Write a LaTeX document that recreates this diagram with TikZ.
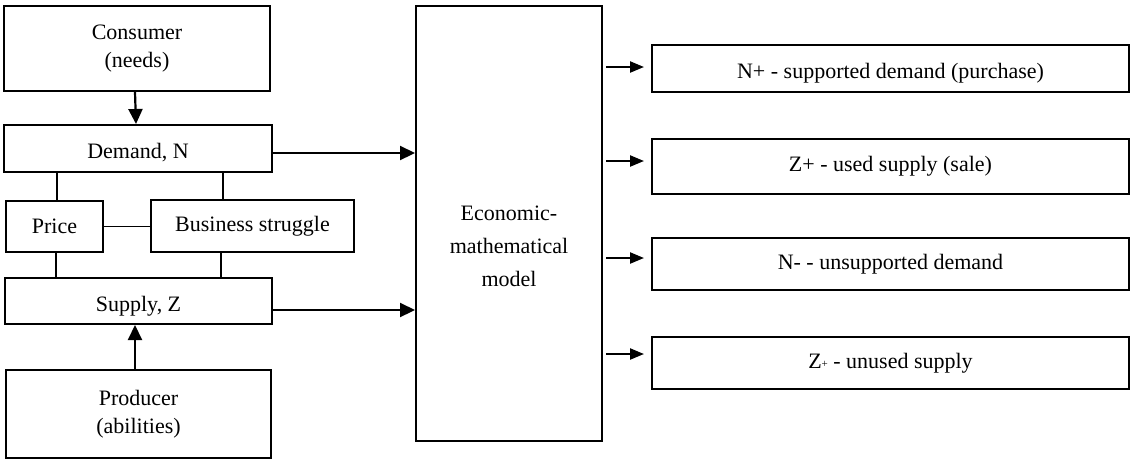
\documentclass[tikz,border=0pt]{standalone}
\usepackage{fontspec}
\setmainfont{Liberation Serif}
\usetikzlibrary{arrows.meta}
\begin{document}
\begin{tikzpicture}[x=1pt,y=-1pt,
  box/.style={draw, line width=2pt, inner sep=0pt, align=center,
    font=\fontsize{22}{28}\selectfont},
  low/.style={text height=20pt, text depth=0pt},
  label text/.style={inner sep=0pt, align=center, font=\fontsize{22}{33}\selectfont},
  link/.style={line width=1.5pt},
  arr/.style={line width=2.2pt, -{Triangle[length=15pt,width=14pt]}},
  outarr/.style={line width=2.2pt, -{Triangle[length=14pt,width=11pt]}}]
\useasboundingbox (0,0) rectangle (1132,459);

% left column
\node[box, minimum width=266pt, minimum height=85pt] (consumer) at (137,48.5) {Consumer\\(needs)};
\node[box, low, minimum width=268pt, minimum height=47pt] (demand) at (138,148.5) {Demand, N};
\node[box, minimum width=97pt, minimum height=51pt] (price) at (54.5,226.5) {Price};
\node[box, minimum width=203pt, minimum height=52pt] (business) at (252.5,226) {Business struggle};
\node[box, low, minimum width=267pt, minimum height=46pt] (supply) at (138.5,301) {Supply, Z};
\node[box, minimum width=265pt, minimum height=88pt] (producer) at (138.5,414) {Producer\\(abilities)};

% model
\node[box, minimum width=186pt, minimum height=435pt] (model) at (509,223.5) {};
\node[label text] (modeltext) at (509,246) {Economic-\\mathematical\\model};

% results
\node[box, low, minimum width=477pt, minimum height=47pt] (out1) at (890.5,68.5) {N+ - supported demand (purchase)};
\node[box, minimum width=477pt, minimum height=55pt] (out2) at (890.5,166.5) {Z+ - used supply (sale)};
\node[box, minimum width=477pt, minimum height=52pt] (out3) at (890.5,264) {N- - unsupported demand};
\node[box, minimum width=477pt, minimum height=52pt] (out4) at (890.5,363) {Z{\fontsize{11}{11}\selectfont\raisebox{0.15ex}{+}} - unused supply};

% vertical flows
\draw[arr] ([xshift=-2pt]consumer.south) -- ([xshift=-2pt]demand.north);
\draw[arr] ([xshift=-3.5pt]producer.north) -- ([xshift=-3.5pt]supply.south);

% ties between demand, price, struggle and supply
\draw[link] ([xshift=2.5pt]price.north) -- ([xshift=2.5pt]price.north |- demand.south);
\draw[link] ([xshift=1.5pt]price.south) -- ([xshift=1.5pt]price.south |- supply.north);
\draw[link] ([xshift=-29.5pt]business.north) -- ([xshift=-29.5pt]business.north |- demand.south);
\draw[link] ([xshift=-31.5pt]business.south) -- ([xshift=-31.5pt]business.south |- supply.north);
\draw[link] (price.east) -- (price.east -| business.west);

% inputs to the model
\coordinate (din) at ([yshift=-4.5pt]demand.east);
\coordinate (sin) at ([yshift=-9pt]supply.east);
\draw[arr] (din) -- (din -| model.west);
\draw[arr] (sin) -- (sin -| model.west);

% outputs of the model
\foreach \o/\dy in {out1/1.5, out2/5.5, out3/6, out4/9}{
  \coordinate (t) at ([xshift=-7pt,yshift=\dy pt]\o.west);
  \draw[outarr] ([xshift=3pt]model.east |- t) -- (t);
}
\end{tikzpicture}
\end{document}
